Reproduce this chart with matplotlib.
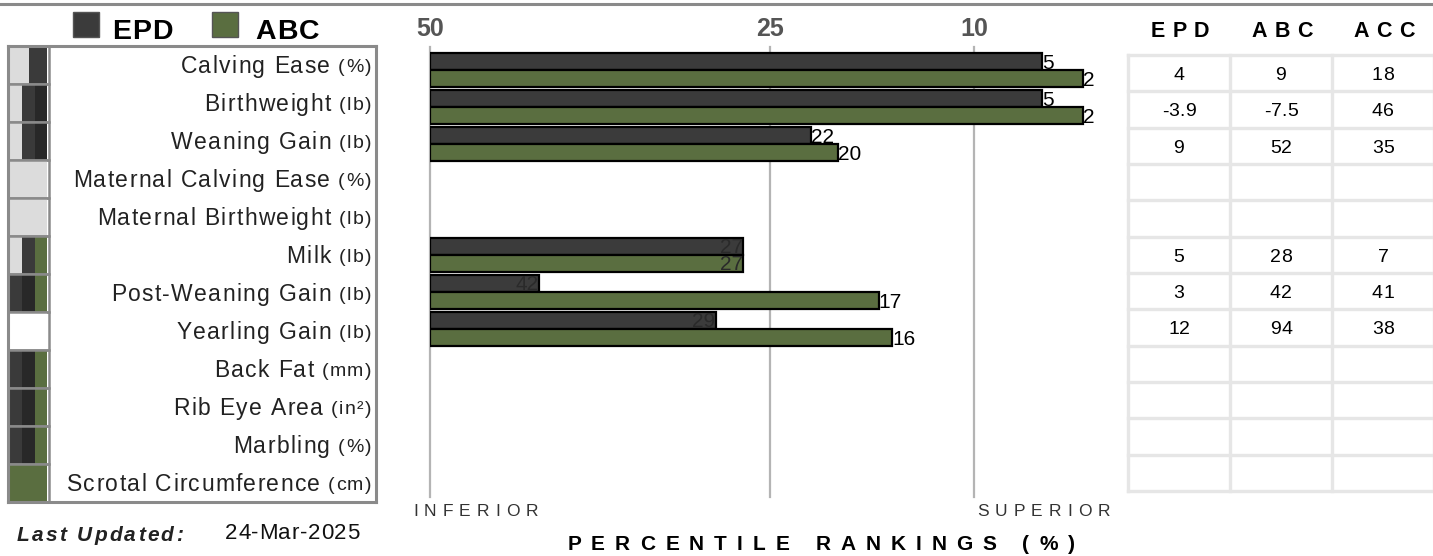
import matplotlib
matplotlib.use("Agg")
import matplotlib.pyplot as plt
from matplotlib.patches import Rectangle
from matplotlib.lines import Line2D
from matplotlib.font_manager import FontProperties, findfont, get_font

# ---------------- data ----------------
traits = ["Calving Ease", "Birthweight", "Weaning Gain", "Maternal Calving Ease",
          "Maternal Birthweight", "Milk", "Post-Weaning Gain", "Yearling Gain",
          "Back Fat", "Rib Eye Area", "Marbling", "Scrotal Circumference"]
units = ["(%)", "(lb)", "(lb)", "(%)", "(lb)", "(lb)", "(lb)", "(lb)",
         "(mm)", "(in²)", "(%)", "(cm)"]
epd_pct = [5, 5, 22, None, None, 27, 42, 29, None, None, None, None]
abc_pct = [2, 2, 20, None, None, 27, 17, 16, None, None, None, None]
epd_vals = ["4", "-3.9", "9", "", "", "5", "3", "12", "", "", "", ""]
abc_vals = ["9", "-7.5", "52", "", "", "28", "42", "94", "", "", "", ""]
acc_vals = ["18", "46", "35", "", "", "7", "41", "38", "", "", "", ""]
table_headers = ["EPD", "ABC", "ACC"]
x_ticks = [50, 25, 10]
swatches = [["L", "D"], ["L", "D", "K"], ["L", "D", "K"], ["L"], ["L"],
            ["L", "D", "G"], ["D", "K", "G"], ["W"], ["D", "K", "G"],
            ["D", "K", "G"], ["D", "K", "G"], ["G"]]
updated = "24-Mar-2025"

# ---------------- style ----------------
DARK = "#3b3b3b"
GREEN = "#5a6e40"
SW_COL = {"L": "#dcdcdc", "D": "#3a3a3a", "K": "#282828", "G": GREEN, "W": "#ffffff"}
FONT = "Liberation Sans"
plt.rcParams["font.family"] = [FONT, "DejaVu Sans"]

W, H, DPI = 1433, 556, 100
fig = plt.figure(figsize=(W / DPI, H / DPI), dpi=DPI)


def px_axes(x0, y0, x1, y1):
    return fig.add_axes([x0 / W, 1 - y1 / H, (x1 - x0) / W, (y1 - y0) / H])


def tracked(x, y, s, size, track=0.0, ha="left", weight="normal",
            style="normal", color="black"):
    """Letter-spaced text; x, y in figure pixels from top-left, y = cap centre."""
    prop = FontProperties(family=FONT, size=size, weight=weight, style=style)
    font = get_font(findfont(prop))
    font.set_size(size, DPI)
    advs = []
    for ch in s:
        g = font.load_char(ord(ch))
        advs.append(g.linearHoriAdvance / 65536.0)
    total = sum(advs) + track * (len(s) - 1)
    start = {"left": 0.0, "center": -total / 2.0, "right": -total}[ha]
    cap = 0.716 * size * DPI / 72.0
    base = y + cap / 2.0
    pos = x + start
    for ch, a in zip(s, advs):
        if ch != " ":
            fig.text(pos / W, 1 - base / H, ch, fontproperties=prop,
                     color=color, ha="left", va="baseline")
        pos += a + track
    return total


# top rule
fig.add_artist(Line2D([0, 1], [1 - 4 / H] * 2, color="#8a8a8a", lw=2.2))

# legend
for x0, col, lab, tx in [(73, DARK, "EPD", 112), (212, GREEN, "ABC", 255)]:
    fig.add_artist(Rectangle((x0 / W, 1 - 37 / H), 26 / W, 25 / H,
                             facecolor=col, edgecolor="#555555", lw=1.0))
    tracked(tx, 29, lab, 20.5, track=1.2, weight="bold")

# ---------------- label box ----------------
axl = px_axes(8, 46, 376, 502)
n = len(traits)
axl.set_xlim(0, 368)
axl.set_ylim(n - 0.5, -0.5)
axl.set_xticks([])
axl.set_yticks([])
for sp in axl.spines.values():
    sp.set_color("#8a8a8a")
    sp.set_linewidth(2.2)

sw_l, sw_r = 2, 39
for i, sw in enumerate(swatches):
    w = (sw_r - sw_l) / len(sw)
    for k, c in enumerate(sw):
        axl.barh(i, w, left=sw_l + k * w, height=1.0, color=SW_COL[c], lw=0)
    axl.add_patch(Rectangle((0, i - 0.5), 41, 1.0, facecolor="none",
                            edgecolor="#8a8a8a", lw=1.8))

for i, (t, u) in enumerate(zip(traits, units)):
    xd, yd = axl.transData.transform((363, i))
    ytop = H - yd
    uw = tracked(xd, ytop + 0.5, u, 14, track=1.3, ha="right", color="#222222")
    tracked(xd - uw - 8, ytop, t, 16.5, track=1.35, ha="right", color="#222222")

# ---------------- bars ----------------
ax = px_axes(430, 47, 1110, 497)
ax.set_xlim(50, 0)
ax.set_ylim(11.54, -0.62)
for sp in ax.spines.values():
    sp.set_visible(False)
ax.set_xticks(x_ticks)
ax.set_yticks([])
ax.xaxis.tick_top()
ax.tick_params(axis="x", length=0, pad=4, labelsize=18, labelcolor="#555555")
for lb in ax.get_xticklabels():
    lb.set_fontweight("bold")
ax.grid(axis="x", color="#b4b4b4", lw=1.6)
ax.set_axisbelow(True)
for gl in ax.get_xgridlines():
    gl.set_clip_on(False)

bh = 0.46
for i in range(n):
    for p, off, col in [(epd_pct[i], -bh / 2, DARK), (abc_pct[i], bh / 2, GREEN)]:
        if p is None:
            continue
        ax.barh(i + off, p - 50, left=50, height=bh, color=col,
                edgecolor="black", lw=1.6)
        if p > 25:
            ax.text(p, i + off + 0.04, str(p), ha="right", va="center",
                    fontsize=15, color="#2a2a2a")
        else:
            ax.text(p, i + off + 0.06, str(p), ha="left", va="center",
                    fontsize=15, color="black")

tracked(413, 510, "INFERIOR", 12.5, track=6, ha="left", color="#333333")
tracked(1110, 510, "SUPERIOR", 12.5, track=6, ha="right", color="#333333")
tracked(821, 543, "PERCENTILE RANKINGS (%)", 15, track=10, ha="center",
        weight="bold")

tracked(17, 534, "Last Updated:", 15, track=2.2, weight="bold", style="italic",
        color="#222222")
tracked(225, 531, updated, 16, track=0.7, color="#111111")

# ---------------- table ----------------
axt = px_axes(1128, 55, 1435, 491)
axt.set_xlim(0, 3.01)
axt.set_ylim(n, 0)
axt.axis("off")
for r in range(n + 1):
    axt.axhline(r, color="#e6e6e6", lw=2.4, clip_on=False)
for c in range(4):
    axt.axvline(c, color="#e6e6e6", lw=2.4, clip_on=False)
for c, col_vals in enumerate([epd_vals, abc_vals, acc_vals]):
    for r, v in enumerate(col_vals):
        if v:
            xd, yd = axt.transData.transform((c + 0.5, r + 0.5))
            tracked(xd, H - yd, v, 14, track=0.3, ha="center", color="black")
for c, hdr in enumerate(table_headers):
    tracked([1180, 1282, 1384][c], 29.5, hdr, 15.5, track=7.5, ha="center",
            weight="bold")

fig.savefig("out.png", dpi=DPI)
